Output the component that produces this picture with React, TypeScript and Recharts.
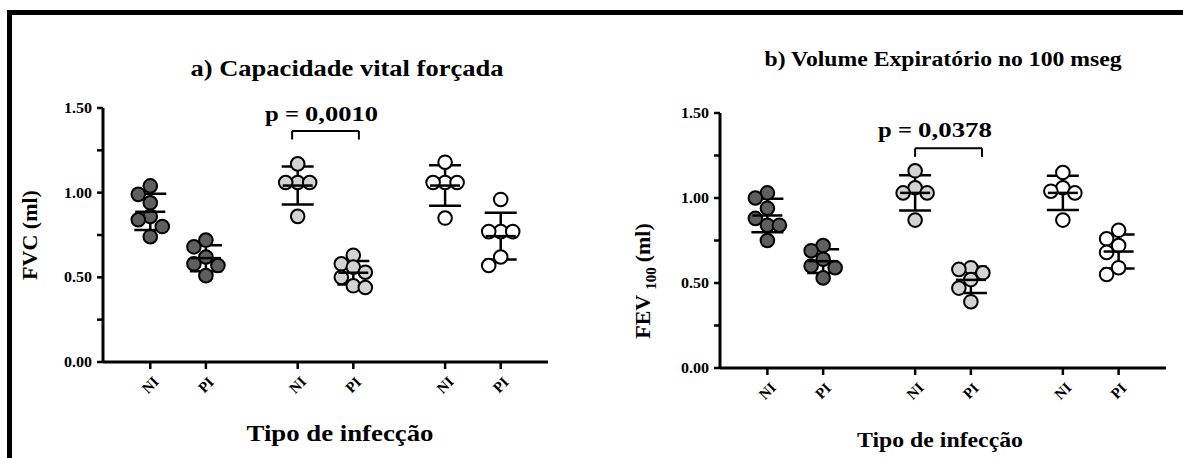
import { ScatterChart, Scatter, XAxis, YAxis, ErrorBar, ReferenceLine } from "recharts";

const SERIF = "Liberation Serif, Times New Roman, Times, serif";

// tick labels along the x axis (three NI/PI pairs)
const groupLabels = ["NI", "PI", "NI", "PI", "NI", "PI"];
const yTicks = [0, 0.25, 0.5, 0.75, 1, 1.25, 1.5];

// a) FVC (ml)
const fvcNI1 = [1.04, 0.99, 0.94, 0.86, 0.84, 0.8, 0.74];
const fvcPI1 = [0.72, 0.68, 0.62, 0.58, 0.57, 0.51];
const fvcNI2 = [1.17, 1.06, 1.06, 1.06, 0.86];
const fvcPI2 = [0.63, 0.58, 0.56, 0.53, 0.5, 0.45, 0.44];
const fvcNI3 = [1.18, 1.06, 1.06, 1.06, 0.85];
const fvcPI3 = [0.96, 0.77, 0.77, 0.77, 0.62, 0.57];

// b) FEV100 (ml)
const fevNI1 = [1.03, 1.0, 0.94, 0.88, 0.84, 0.84, 0.75];
const fevPI1 = [0.72, 0.69, 0.64, 0.6, 0.59, 0.53];
const fevNI2 = [1.16, 1.06, 1.03, 1.03, 0.87];
const fevPI2 = [0.59, 0.58, 0.56, 0.52, 0.47, 0.39];
const fevNI3 = [1.15, 1.06, 1.04, 1.03, 0.87];
const fevPI3 = [0.81, 0.76, 0.72, 0.68, 0.59, 0.55];

const fvcGroups = [fvcNI1, fvcPI1, fvcNI2, fvcPI2, fvcNI3, fvcPI3];
const fevGroups = [fevNI1, fevPI1, fevNI2, fevPI2, fevNI3, fevPI3];

const PAIR_FILLS = ["#5f5f5f", "#d3d3d3", "#ffffff"];
const X_MAX = 8;
const centers = groupLabels.map((_, i) => 0.85 + i + Math.floor(i / 2) * 0.65);

const mean = (a: number[]) => a.reduce((s, v) => s + v, 0) / a.length;
const sd = (a: number[]) => {
  const m = mean(a);
  return Math.sqrt(a.reduce((s, v) => s + (v - m) ** 2, 0) / (a.length - 1));
};

// simple beeswarm: push a dot sideways until it stops colliding
function swarm(values: number[], center: number, pxX: number, pxY: number) {
  const step = 12;
  const minDist = 11;
  const placed: { x: number; y: number }[] = [];
  return values.map((v) => {
    const py = v * pxY;
    let off = 0;
    for (const c of [0, -step, step, -2 * step, 2 * step]) {
      if (placed.every((p) => Math.hypot(p.x - c, p.y - py) >= minDist)) {
        off = c;
        break;
      }
    }
    placed.push({ x: off, y: py });
    return { x: center + off / pxX, y: v };
  });
}

const Dot = (fill: string) => (p: any) => (
  <circle cx={p.cx} cy={p.cy} r={6.8} fill={fill} stroke="#000" strokeWidth={2} />
);

const MeanLine = (p: any) => (
  <line x1={p.cx - 15} x2={p.cx + 15} y1={p.cy} y2={p.cy} stroke="#000" strokeWidth={2.5} />
);

const YTick = ({ x, y, payload }: any) => {
  const v = payload.value as number;
  if (Math.abs(v * 2 - Math.round(v * 2)) > 1e-6) return null;
  return (
    <text x={x} y={y} dy={5} textAnchor="end" fontFamily={SERIF} fontWeight="bold" fontSize={14}
      textLength={28} lengthAdjust="spacingAndGlyphs" fill="#000">
      {v.toFixed(2)}
    </text>
  );
};

const XTick = ({ x, y, payload }: any) => {
  const i = centers.findIndex((c) => Math.abs(c - payload.value) < 1e-6);
  const ty = y + 14;
  return (
    <text x={x} y={ty} transform={`rotate(-45 ${x} ${ty})`} textAnchor="middle" dominantBaseline="central"
      fontFamily={SERIF} fontWeight="bold" fontSize={15} fill="#000">
      {groupLabels[i]}
    </text>
  );
};

interface PanelProps {
  groups: number[][];
  width: number;
  margin: { top: number; right: number; bottom: number; left: number };
  bracket: { x1: number; x2: number; y: number; drop: number };
}

function Panel({ groups, width, margin, bracket }: PanelProps) {
  const height = 458;
  const plotW = width - margin.left - margin.right - 60;
  const plotH = height - margin.top - margin.bottom - 30;
  const pxX = plotW / X_MAX;
  const pxY = plotH / 1.5;
  const points = groups.map((g, i) => swarm(g, centers[i], pxX, pxY));
  const stats = groups.map((g, i) => ({ x: centers[i], y: mean(g), sd: sd(g) }));
  return (
    <ScatterChart width={width} height={height} margin={margin}>
      <XAxis type="number" dataKey="x" domain={[0, X_MAX]} ticks={centers} interval={0} tick={<XTick />}
        axisLine={{ stroke: "#000", strokeWidth: 3 }} tickLine={{ stroke: "#000", strokeWidth: 2.5 }}
        tickSize={7} height={30} allowDataOverflow />
      <YAxis type="number" dataKey="y" domain={[0, 1.5]} ticks={yTicks} interval={0} tick={<YTick />}
        axisLine={{ stroke: "#000", strokeWidth: 3 }} tickLine={{ stroke: "#000", strokeWidth: 2.5 }}
        tickSize={6} tickMargin={5} width={60} allowDataOverflow />
      {points.map((pts, i) => (
        <Scatter key={i} data={pts} shape={Dot(PAIR_FILLS[Math.floor(i / 2)])} isAnimationActive={false} />
      ))}
      <Scatter data={stats} shape={MeanLine} isAnimationActive={false}>
        <ErrorBar dataKey="sd" direction="y" width={16} stroke="#000" strokeWidth={2.5} />
      </Scatter>
      <ReferenceLine segment={[{ x: bracket.x1, y: bracket.y }, { x: bracket.x2, y: bracket.y }]}
        stroke="#000" strokeWidth={2} ifOverflow="visible" />
      <ReferenceLine segment={[{ x: bracket.x1, y: bracket.y }, { x: bracket.x1, y: bracket.y - bracket.drop }]}
        stroke="#000" strokeWidth={2} ifOverflow="visible" />
      <ReferenceLine segment={[{ x: bracket.x2, y: bracket.y }, { x: bracket.x2, y: bracket.y - bracket.drop }]}
        stroke="#000" strokeWidth={2} ifOverflow="visible" />
    </ScatterChart>
  );
}

const txt = { fontFamily: SERIF, fontWeight: "bold" as const, fill: "#000" };

export default function App() {
  return (
    <div style={{ position: "absolute", left: 0, top: 0, width: 1183, height: 458, background: "#fff" }}>
      <div style={{ position: "absolute", left: 0, top: 0 }}>
        <Panel groups={fvcGroups} width={600} margin={{ top: 108, right: 52, bottom: 66, left: 43 }}
          bracket={{ x1: 3.4, x2: 4.6, y: 1.364, drop: 0.05 }} />
      </div>
      <div style={{ position: "absolute", left: 600, top: 0 }}>
        <Panel groups={fevGroups} width={583} margin={{ top: 113, right: 17, bottom: 60, left: 60 }}
          bracket={{ x1: 3.5, x2: 4.7, y: 1.292, drop: 0.05 }} />
      </div>
      <svg width={1183} height={458} style={{ position: "absolute", left: 0, top: 0, pointerEvents: "none" }}>
        <rect x={7} y={10} width={1176} height={5} fill="#000" />
        <rect x={7} y={10} width={5} height={448} fill="#000" />

        <text {...txt} x={347} y={76} fontSize={23} textAnchor="middle" textLength={313} lengthAdjust="spacingAndGlyphs">
          a) Capacidade vital forçada
        </text>
        <text {...txt} x={943} y={66} fontSize={20} textAnchor="middle" textLength={357} lengthAdjust="spacingAndGlyphs">
          b) Volume Expiratório no 100 mseg
        </text>

        <text {...txt} x={265} y={121} fontSize={21} textLength={34} lengthAdjust="spacingAndGlyphs">p =</text>
        <text {...txt} x={305} y={121} fontSize={21} textLength={73} lengthAdjust="spacingAndGlyphs">0,0010</text>
        <text {...txt} x={878} y={137} fontSize={21} textLength={34} lengthAdjust="spacingAndGlyphs">p =</text>
        <text {...txt} x={918} y={137} fontSize={21} textLength={74} lengthAdjust="spacingAndGlyphs">0,0378</text>

        <text {...txt} x={340} y={441} fontSize={24} textAnchor="middle" textLength={187} lengthAdjust="spacingAndGlyphs">
          Tipo de infecção
        </text>
        <text {...txt} x={940} y={447} fontSize={21} textAnchor="middle" textLength={166} lengthAdjust="spacingAndGlyphs">
          Tipo de infecção
        </text>

        <text {...txt} x={0} y={0} fontSize={22} textAnchor="middle" transform="translate(37 235) rotate(-90)">
          FVC (ml)
        </text>
        <text {...txt} x={0} y={0} fontSize={22} textAnchor="middle" transform="translate(650 281) rotate(-90)">
          FEV
          <tspan fontSize={15} dy={6} dx={5}>100</tspan>
          <tspan dy={-6} dx={5}>(ml)</tspan>
        </text>
      </svg>
    </div>
  );
}
